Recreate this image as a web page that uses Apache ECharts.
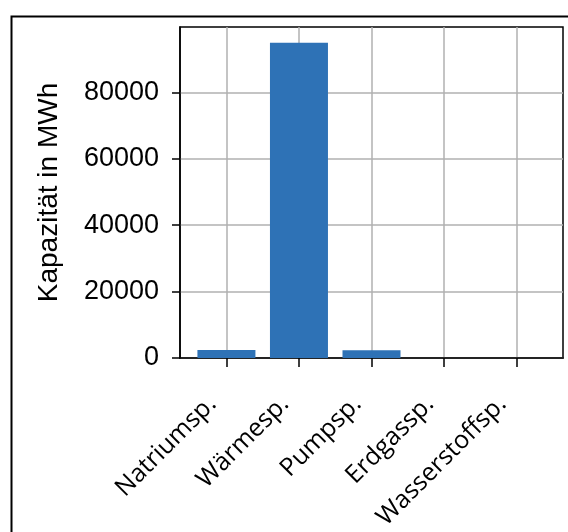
<!DOCTYPE html>
<html>
<head>
<meta charset="utf-8">
<script src="https://cdn.jsdelivr.net/npm/echarts@6/dist/echarts.min.js"></script>
<style>
html,body{margin:0;padding:0;background:#fff;}
#chart{width:568px;height:532px;}
</style>
</head>
<body>
<div id="chart"></div>
<script>
const categories = ['Natriumsp.', 'Wärmesp.', 'Pumpsp.', 'Erdgassp.', 'Wasserstoffsp.'];
const capacityMWh = [2400, 94900, 2300, 0, 0];
const yTicks = [0, 20000, 40000, 60000, 80000];
const yTitle = 'Kapazität in MWh';

const catIdx = categories.map((c, i) => i);
const chart = echarts.init(document.getElementById('chart'), null, {renderer: 'canvas'});
chart.setOption({
  animation: false,
  backgroundColor: '#fff',
  graphic: [{
    type: 'rect', left: 9, top: 14, silent: true,
    shape: {width: 700, height: 700},
    style: {fill: 'none', stroke: '#000', lineWidth: 2}
  }],
  grid: {
    left: 180, top: 27, right: 5, bottom: 174,
    outerBoundsMode: 'none', containLabel: false,
    show: true, borderColor: '#000', borderWidth: 1.5, backgroundColor: 'transparent'
  },
  xAxis: {
    type: 'value', min: -0.64, max: 4.64,
    axisLine: {show: true, onZero: false, lineStyle: {color: '#000', width: 1.5}},
    axisTick: {show: true, customValues: catIdx, length: 9, lineStyle: {color: '#000', width: 1.5}},
    splitLine: {show: true, lineStyle: {color: '#b0b0b0', width: 1.5}},
    axisLabel: {
      customValues: catIdx, rotate: 45, margin: 28, padding: [0, 20, 0, 0],
      fontFamily: 'Open Sans', fontSize: 25, color: '#000',
      formatter: v => categories[Math.round(v)]
    }
  },
  yAxis: {
    type: 'value', min: 0, max: 99650,
    name: yTitle, nameLocation: 'middle', nameGap: 117,
    nameTextStyle: {fontFamily: 'Liberation Sans', fontSize: 28, color: '#000'},
    axisLine: {show: true, onZero: false, lineStyle: {color: '#000', width: 1.5}},
    axisTick: {show: true, customValues: yTicks, length: 8, lineStyle: {color: '#000', width: 1.5}},
    splitLine: {show: true, lineStyle: {color: '#b0b0b0', width: 1.5}},
    axisLabel: {
      customValues: yTicks, margin: 21,
      fontFamily: 'Liberation Sans', fontSize: 27, color: '#000',
      formatter: v => String(v)
    }
  },
  series: [{
    type: 'bar', barWidth: 58,
    itemStyle: {color: '#2e72b6'},
    data: catIdx.map(i => [i, capacityMWh[i]])
  }]
});
</script>
</body>
</html>
